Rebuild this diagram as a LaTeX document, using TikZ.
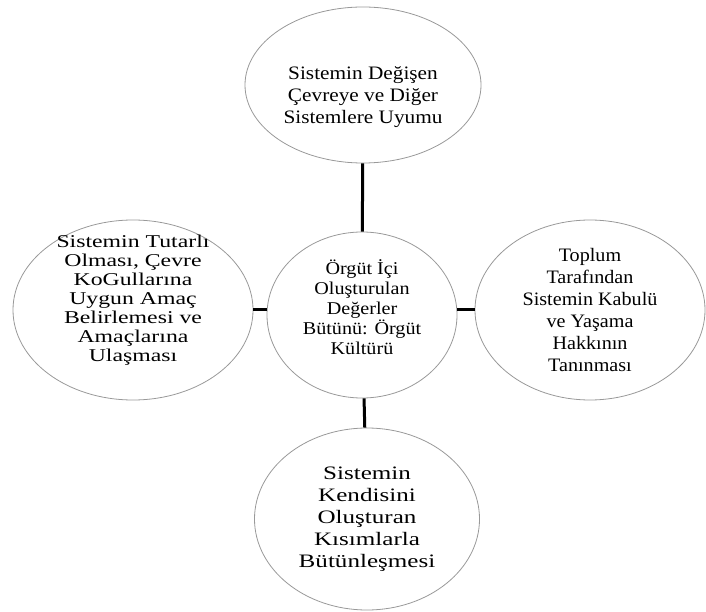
\documentclass[tikz,border=0pt]{standalone}
\usepackage{fontspec}
\setmainfont{Liberation Serif}[FakeStretch=1.12]
\newfontfamily\wideserif{Liberation Serif}[FakeStretch=1.32]
\newfontfamily\narrowserif{Liberation Serif}[FakeStretch=1.06]
\usetikzlibrary{shapes.geometric}

\tikzset{
  bubble/.style={ellipse,draw=gray!80,line width=.8pt,fill=white,inner sep=0pt},
  words/.style={align=center,inner sep=0pt,font=\fontsize{19}{22}\selectfont},
  link/.style={line width=3pt,black}
}

\begin{document}
\begin{tikzpicture}[x=1pt,y=1pt]
\useasboundingbox (0,0) rectangle (706,611);
\node[bubble,minimum width=236,minimum height=156,
  label={[words,yshift=-12]center:{Sistemin Değişen\\Çevreye ve Diğer\\Sistemlere Uyumu}}] (top) at (363,526) {};
\node[bubble,minimum width=240,minimum height=180,
  label={[words,yshift=10,font=\wideserif\fontsize{18}{19}\selectfont]center:{Sistemin Tutarlı\\Olması, Çevre\\KoGullarına\\Uygun Amaç\\Belirlemesi ve\\Amaçlarına\\Ulaşması}}] (left) at (133,301) {};
\node[bubble,minimum width=190,minimum height=166,
  label={[words,yshift=8,font=\fontsize{18}{20}\selectfont]center:{Örgüt İçi\\Oluşturulan\\Değerler\\Bütünü: Örgüt\\Kültürü}}] (center) at (362,296) {};
\node[bubble,minimum width=230,minimum height=180,
  label={[words,font=\narrowserif\fontsize{19}{22}\selectfont]center:{Toplum\\Tarafından\\Sistemin Kabulü\\ve Yaşama\\Hakkının\\Tanınması}}] (right) at (590,301) {};
\node[bubble,minimum width=225,minimum height=182,
  label={[words,font=\wideserif\fontsize{19}{22}\selectfont]center:{Sistemin\\Kendisini\\Oluşturan\\Kısımlarla\\Bütünleşmesi}}] (bottom) at (367,92) {};
\draw[link] (top) -- (center);
\draw[link] (center) -- (bottom);
\draw[link] (left.east) -- (left.east -| center.west);
\draw[link] (right.west) -- (right.west -| center.east);
\end{tikzpicture}
\end{document}
